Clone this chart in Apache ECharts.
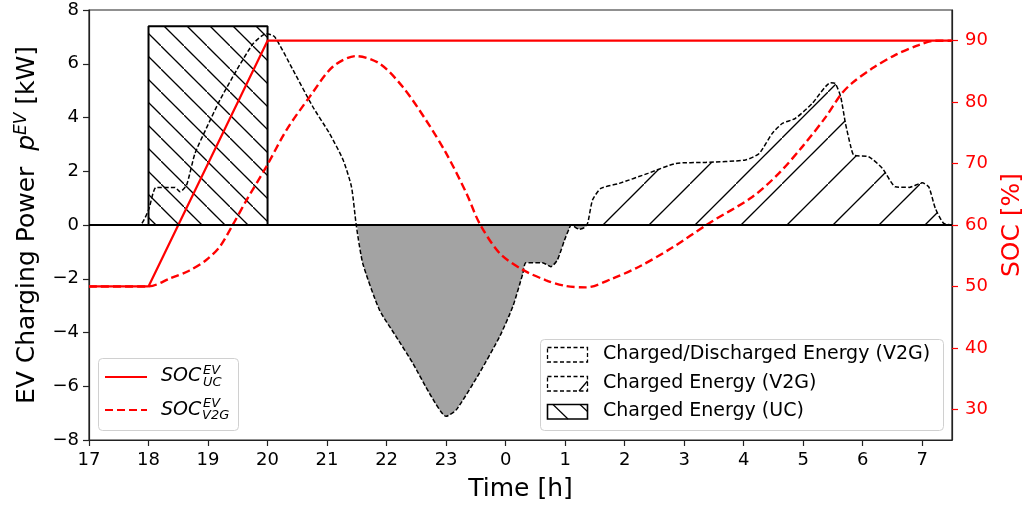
<!DOCTYPE html>
<html>
<head>
<meta charset="utf-8">
<script src="https://cdn.jsdelivr.net/npm/echarts@6/dist/echarts.min.js"></script>
<style>
html, body { margin: 0; padding: 0; background: #fff; }
#chart { width: 1024px; height: 511px; }
</style>
</head>
<body>
<div id="chart"></div>
<script>
// data
var xTicks = [17, 18, 19, 20, 21, 22, 23, 24, 25, 26, 27, 28, 29, 30, 31];
var powerTicks = [-8, -6, -4, -2, 0, 2, 4, 6, 8];
var socTicks = [30, 40, 50, 60, 70, 80, 90];

// unidirectional charging (UC) block
var ucTime = [18, 18, 20, 20];
var ucPower = [0, 7.4, 7.4, 0];

// V2G charging power [kW]
var v2gTime = [17, 17.85, 18.0, 18.13, 18.44, 18.53, 18.64, 18.78, 18.97, 19.2,
    19.48, 19.76, 19.98, 20.12, 20.43, 20.76, 21.04, 21.27, 21.41, 21.49,
    21.6, 21.88, 22.16, 22.44, 22.72, 23.0, 23.17, 23.56, 23.9, 24.12,
    24.29, 24.34, 24.62, 24.76, 24.87, 24.99, 25.07, 25.1, 25.24, 25.32,
    25.38, 25.46, 25.6, 25.91, 26.39, 26.86, 27.36, 28.03, 28.26, 28.48,
    28.65, 28.87, 29.15, 29.46, 29.54, 29.63, 29.71, 29.8, 29.85, 30.1,
    30.33, 30.55, 30.78, 31.0, 31.11, 31.22, 31.36, 31.5];
var v2gPower = [0, 0, 0.56, 1.4, 1.4, 1.24, 1.49, 2.66, 3.59, 4.65,
    5.76, 6.75, 7.12, 7.0, 5.76, 4.4, 3.41, 2.42, 1.42, 0,
    -1.43, -3.16, -4.15, -5.14, -6.26, -7.12, -6.88, -5.51, -4.15, -3.04,
    -1.8, -1.4, -1.4, -1.55, -1.3, -0.56, -0.12, 0, -0.16, -0.1,
    0.08, 0.93, 1.36, 1.55, 1.92, 2.29, 2.33, 2.42, 2.66, 3.41,
    3.78, 3.97, 4.52, 5.29, 5.26, 4.77, 3.78, 2.91, 2.6, 2.54,
    2.11, 1.42, 1.4, 1.57, 1.42, 0.62, 0.06, 0];
var v2gHatchFrom = 25.38;

// SOC [%]
var socUcTime = [17, 18, 20, 31.5];
var socUc = [50, 50, 90, 90];
var socV2gTime = [17, 18, 18.36, 18.69, 18.97, 19.2, 19.42, 19.65, 19.98, 20.32,
    20.71, 21.1, 21.49, 21.88, 22.27, 22.66, 23.0, 23.34, 23.56, 23.9,
    24.29, 24.68, 25.01, 25.35, 25.8, 26.24, 26.78, 27.42, 28.15, 28.59,
    28.99, 29.38, 29.63, 29.82, 30.16, 30.55, 30.94, 31.22, 31.5];
var socV2g = [50, 50, 51.3, 52.6, 54.3, 56.5, 60.1, 64.1, 69.5, 75.5,
    80.9, 85.8, 87.5, 86.3, 82.5, 77.1, 71.7, 65.2, 60.3, 55.4,
    52.7, 51.0, 50.07, 49.85, 51.3, 53.2, 56.2, 60.3, 64.6, 68.4,
    72.8, 77.6, 81.2, 83.1, 85.5, 87.7, 89.3, 90.0, 90.0];

var FONT = 'DejaVu Sans';

function zip(a, b) {
    return a.map(function (v, i) { return [v, b[i]]; });
}

// hatch tile: '/' or '\'
function hatch(size, dir) {
    var c = document.createElement('canvas');
    c.width = c.height = size;
    var ctx = c.getContext('2d');
    ctx.strokeStyle = '#000';
    ctx.lineWidth = 1.3;
    ctx.beginPath();
    if (dir === '\\') {
        ctx.moveTo(-2, -2); ctx.lineTo(size + 2, size + 2);
    } else {
        ctx.moveTo(-2, size + 2); ctx.lineTo(size + 2, -2);
    }
    ctx.stroke();
    return { image: c, repeat: 'repeat' };
}

var negArea = v2gTime.map(function (t, i) { return [t, Math.min(v2gPower[i], 0)]; });
var posArea = v2gTime.map(function (t, i) { return [t, Math.max(v2gPower[i], 0)]; })
    .filter(function (p) { return p[0] >= v2gHatchFrom; });

var myChart = echarts.init(document.getElementById('chart'));

var option = {
    animation: false,
    grid: {
        left: 89, right: 72, top: 10, bottom: 71, show: true, borderColor: '#222', borderWidth: 1.2,
        outerBoundsMode: 'none', containLabel: false
    },
    xAxis: {
        type: 'value', min: 17, max: 31.5,
        axisLine: { show: true, onZero: false, lineStyle: { color: '#222', width: 1.2 } },
        axisTick: { show: true, length: 6, customValues: xTicks, lineStyle: { color: '#222', width: 1.2 } },
        axisLabel: {
            customValues: xTicks, margin: 11, fontSize: 18, color: '#000', fontFamily: FONT,
            formatter: function (v) { return String(v % 24); }
        },
        splitLine: { show: false },
        name: 'Time [h]', nameLocation: 'middle', nameGap: 37,
        nameTextStyle: { fontSize: 25, color: '#000', fontFamily: FONT }
    },
    yAxis: [{
        type: 'value', min: -8, max: 8, interval: 2,
        axisLine: { show: true, onZero: false, lineStyle: { color: '#222', width: 1.2 } },
        axisTick: { show: true, length: 6, customValues: powerTicks, lineStyle: { color: '#222', width: 1.2 } },
        axisLabel: {
            customValues: powerTicks, margin: 10, fontSize: 18, color: '#000', fontFamily: FONT,
            formatter: function (v) { return v < 0 ? '\u2212' + (-v) : String(v); }
        },
        splitLine: { show: false },
        name: 'EV Charging Power  {i|p}{s|EV} [kW]', nameLocation: 'middle', nameRotate: 90, nameGap: 47,
        nameTextStyle: {
            fontSize: 25, color: '#000', fontFamily: FONT,
            rich: {
                i: { fontSize: 25, fontStyle: 'italic', fontFamily: FONT, color: '#000' },
                s: { fontSize: 17, fontStyle: 'italic', fontFamily: FONT, color: '#000', verticalAlign: 'top', padding: [0, 0, 12, 0] }
            }
        }
    }, {
        type: 'value', min: 25, max: 95, position: 'right',
        axisLine: { show: true, onZero: false, lineStyle: { color: '#222', width: 1.2 } },
        axisTick: { show: true, length: 6, customValues: socTicks, lineStyle: { color: '#ff0000', width: 1.2 } },
        axisLabel: { customValues: socTicks, margin: 13, fontSize: 18, color: '#ff0000', fontFamily: FONT },
        splitLine: { show: false },
        name: 'SOC [%]', nameLocation: 'middle', nameRotate: 90, nameGap: 48,
        nameTextStyle: { fontSize: 25, color: '#ff0000', fontFamily: FONT }
    }],
    series: [{
        name: 'Discharged', type: 'line', data: negArea, smooth: 0.2,
        symbol: 'none', lineStyle: { width: 0, opacity: 0 },
        areaStyle: { color: '#a3a3a3', opacity: 1 }
    }, {
        name: 'Charged Energy (V2G)', type: 'line', data: posArea, smooth: 0.2,
        symbol: 'none', lineStyle: { width: 0, opacity: 0 },
        areaStyle: { color: hatch(46, '/'), opacity: 1 }
    }, {
        name: 'Charged Energy (UC)', type: 'line', data: zip(ucTime, ucPower),
        symbol: 'none', lineStyle: { color: '#000', width: 2 },
        areaStyle: { color: hatch(23, '\\'), opacity: 1 },
        markLine: {
            silent: true, symbol: ['none', 'none'], label: { show: false },
            lineStyle: { color: '#000', width: 2, type: 'solid' },
            data: [{ yAxis: 0 }]
        }
    }, {
        name: 'V2G power', type: 'line', data: zip(v2gTime, v2gPower), smooth: 0.2,
        symbol: 'none', lineStyle: { color: '#000', width: 1.5, type: [4.5, 2.2] }
    }, {
        name: 'SOC UC', type: 'line', yAxisIndex: 1, data: zip(socUcTime, socUc),
        symbol: 'none', lineStyle: { color: '#ff0000', width: 2.2 }
    }, {
        name: 'SOC V2G', type: 'line', yAxisIndex: 1, data: zip(socV2gTime, socV2g), smooth: 0.3,
        symbol: 'none', lineStyle: { color: '#ff0000', width: 2.4, type: [8, 4] }
    }],
    graphic: [
        // left legend
        { type: 'rect', z: 100, shape: { x: 98.5, y: 358.5, width: 140, height: 72, r: 4 },
          style: { fill: 'rgba(255,255,255,0.8)', stroke: '#d0d0d0', lineWidth: 1 } },
        { type: 'line', z: 101, shape: { x1: 105, y1: 377, x2: 147, y2: 377 },
          style: { stroke: '#ff0000', lineWidth: 2.2 } },
        { type: 'line', z: 101, shape: { x1: 105, y1: 410, x2: 147, y2: 410 },
          style: { stroke: '#ff0000', lineWidth: 2.2, lineDash: [8, 4] } },
        { type: 'text', z: 101, style: { text: 'SOC', x: 161, y: 376, font: 'italic 19px "DejaVu Sans"', fill: '#000', align: 'left', verticalAlign: 'middle' } },
        { type: 'text', z: 101, style: { text: 'EV', x: 203, y: 371, font: 'italic 13px "DejaVu Sans"', fill: '#000', align: 'left', verticalAlign: 'middle' } },
        { type: 'text', z: 101, style: { text: 'UC', x: 203, y: 383, font: 'italic 13px "DejaVu Sans"', fill: '#000', align: 'left', verticalAlign: 'middle' } },
        { type: 'text', z: 101, style: { text: 'SOC', x: 161, y: 410, font: 'italic 19px "DejaVu Sans"', fill: '#000', align: 'left', verticalAlign: 'middle' } },
        { type: 'text', z: 101, style: { text: 'EV', x: 203, y: 404, font: 'italic 13px "DejaVu Sans"', fill: '#000', align: 'left', verticalAlign: 'middle' } },
        { type: 'text', z: 101, style: { text: 'V2G', x: 202, y: 416, font: 'italic 13px "DejaVu Sans"', fill: '#000', align: 'left', verticalAlign: 'middle' } },
        // right legend
        { type: 'rect', z: 100, shape: { x: 540.5, y: 339.5, width: 403, height: 91, r: 4 },
          style: { fill: 'rgba(255,255,255,0.8)', stroke: '#d0d0d0', lineWidth: 1 } },
        { type: 'rect', z: 101, shape: { x: 547.5, y: 347.5, width: 40, height: 14.5 },
          style: { fill: '#fff', stroke: '#000', lineWidth: 1.3, lineDash: [4, 2.5] } },
        { type: 'rect', z: 101, shape: { x: 547.5, y: 376.5, width: 40, height: 14.5 },
          style: { fill: '#fff', stroke: '#000', lineWidth: 1.3, lineDash: [4, 2.5] } },
        { type: 'line', z: 101, shape: { x1: 579, y1: 391, x2: 587.5, y2: 381 },
          style: { stroke: '#000', lineWidth: 1.2 } },
        { type: 'rect', z: 101, shape: { x: 547.5, y: 404.5, width: 40, height: 14.5 },
          style: { fill: '#fff', stroke: '#000', lineWidth: 1.6 } },
        { type: 'line', z: 101, shape: { x1: 553, y1: 404.5, x2: 568, y2: 419 },
          style: { stroke: '#000', lineWidth: 1.2 } },
        { type: 'line', z: 101, shape: { x1: 580, y1: 404.5, x2: 587.5, y2: 411.5 },
          style: { stroke: '#000', lineWidth: 1.2 } },
        { type: 'text', z: 101, style: { text: 'Charged/Discharged Energy (V2G)', x: 603, y: 354, font: '19px "DejaVu Sans"', fill: '#000', align: 'left', verticalAlign: 'middle' } },
        { type: 'text', z: 101, style: { text: 'Charged Energy (V2G)', x: 603, y: 383, font: '19px "DejaVu Sans"', fill: '#000', align: 'left', verticalAlign: 'middle' } },
        { type: 'text', z: 101, style: { text: 'Charged Energy (UC)', x: 603, y: 411, font: '19px "DejaVu Sans"', fill: '#000', align: 'left', verticalAlign: 'middle' } }
    ]
};

myChart.setOption(option);
</script>
</body>
</html>
